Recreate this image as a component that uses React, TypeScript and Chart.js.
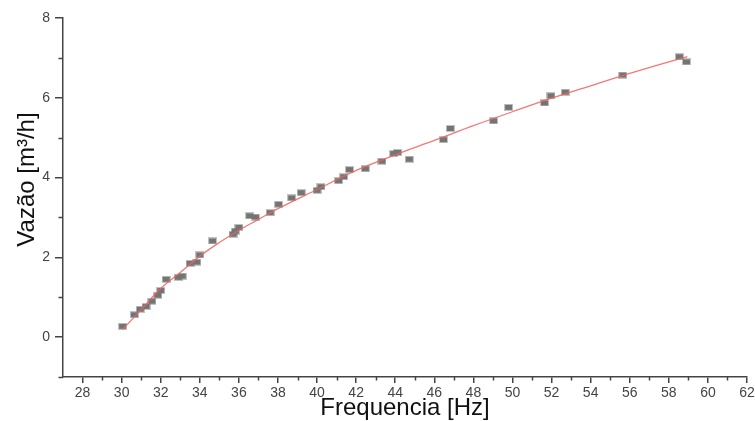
import { useEffect, useRef } from "react";
import { Chart, registerables } from "chart.js";

Chart.register(...registerables);

// Measured points: frequency [Hz] and flow [m³/h]
const frequencies = [
  30.05, 30.65, 30.95, 31.25, 31.55, 31.85, 32.0, 32.28, 32.9, 33.1,
  33.5, 33.85, 34.0, 34.65, 35.7, 35.82, 36.0, 36.55, 36.85, 37.6,
  38.03, 38.7, 39.19, 40.0, 40.2, 41.1, 41.36, 41.66, 42.47, 43.32,
  43.92, 44.12, 44.72, 46.47, 46.82, 49.03, 49.8, 51.64, 51.97, 52.7,
  55.64, 58.54, 58.9,
];
const flows = [
  0.27, 0.56, 0.7, 0.77, 0.9, 1.05, 1.17, 1.45, 1.5, 1.53,
  1.85, 1.88, 2.06, 2.41, 2.58, 2.66, 2.75, 3.04, 3.01, 3.12,
  3.33, 3.49, 3.62, 3.68, 3.77, 3.92, 4.02, 4.2, 4.22, 4.41,
  4.6, 4.63, 4.46, 4.95, 5.23, 5.42, 5.76, 5.87, 6.05, 6.14,
  6.57, 7.03, 6.9,
];

// Fitted curve
const fitFrequencies = [
  30.05, 31, 32, 33, 34, 35, 36, 37, 38, 40, 42, 44, 46, 48, 50, 52, 54, 56,
  58, 58.95,
];
const fitFlows = [
  0.19, 0.69, 1.22, 1.62, 2.03, 2.37, 2.68, 2.95, 3.22, 3.7, 4.18, 4.57, 4.93,
  5.3, 5.65, 5.99, 6.3, 6.61, 6.9, 7.03,
];

const xMin = 27;
const xMax = 62;
const yMin = -1;
const yMax = 8;
const xTickValues = [28, 30, 32, 34, 36, 38, 40, 42, 44, 46, 48, 50, 52, 54, 56, 58, 60, 62];
const xMinorTickValues = [29, 31, 33, 35, 37, 39, 41, 43, 45, 47, 49, 51, 53, 55, 57, 59, 61];
const yTickValues = [0, 2, 4, 6, 8];
const yMinorTickValues = [-1, 1, 3, 5, 7];

const xTitle = "Frequencia [Hz]";
const yTitle = "Vazão [m³/h]";

const FONT = '"Liberation Sans", Arial, sans-serif';
const AXIS_COLOR = "#444";

function makePointImage(): HTMLCanvasElement {
  const c = document.createElement("canvas");
  c.width = 9;
  c.height = 7;
  const g = c.getContext("2d")!;
  g.fillStyle = "rgba(120,120,120,0.45)";
  g.fillRect(0, 0, 9, 7);
  g.fillStyle = "#747474";
  g.fillRect(1, 1, 7, 5);
  return c;
}

const extrasPlugin = {
  id: "extras",
  afterDraw(chart: any) {
    const ctx: CanvasRenderingContext2D = chart.ctx;
    const xs = chart.scales.x;
    const ys = chart.scales.y;
    ctx.save();
    ctx.strokeStyle = AXIS_COLOR;
    ctx.lineWidth = 1.5;
    ctx.beginPath();
    for (const v of xMinorTickValues) {
      const px = Math.round(xs.getPixelForValue(v)) + 0.5;
      ctx.moveTo(px, xs.top);
      ctx.lineTo(px, xs.top + 3.5);
    }
    for (const v of yMinorTickValues) {
      const py = Math.round(ys.getPixelForValue(v)) + 0.5;
      ctx.moveTo(ys.right, py);
      ctx.lineTo(ys.right - 4.5, py);
    }
    ctx.stroke();

    const area = chart.chartArea;
    ctx.translate(27, (area.top + area.bottom) / 2 - 18);
    ctx.rotate(-Math.PI / 2);
    ctx.font = `24px ${FONT}`;
    ctx.fillStyle = "#111";
    ctx.textAlign = "center";
    ctx.textBaseline = "middle";
    ctx.fillText(yTitle, 0, 0);
    ctx.restore();
  },
};

export default function App() {
  const ref = useRef<HTMLCanvasElement | null>(null);

  useEffect(() => {
    if (!ref.current) return;
    const pointImg = makePointImage();
    const chart = new Chart(ref.current, {
      type: "scatter",
      data: {
        datasets: [
          {
            label: "Ajuste",
            data: fitFrequencies.map((x, i) => ({ x, y: fitFlows[i] })),
            showLine: true,
            borderColor: "rgba(240,95,95,0.85)",
            borderWidth: 1.3,
            pointRadius: 0,
            cubicInterpolationMode: "monotone",
            order: 0,
          } as any,
          {
            label: "Vazão",
            data: frequencies.map((x, i) => ({ x, y: flows[i] })),
            pointStyle: pointImg as any,
            pointRadius: 4,
            order: 1,
          },
        ],
      },
      options: {
        animation: false,
        responsive: false,
        devicePixelRatio: 1,
        layout: { padding: { left: 0, top: 18, right: 8, bottom: 0 } },
        plugins: { legend: { display: false }, tooltip: { enabled: false } },
        scales: {
          x: {
            type: "linear",
            min: xMin,
            max: xMax,
            afterBuildTicks: (s: any) => {
              s.ticks = xTickValues.map((value) => ({ value }));
            },
            afterFit: (s: any) => {
              s.height = 44;
              s.paddingLeft = 0;
              s.paddingRight = 8;
            },
            grid: {
              drawOnChartArea: false,
              drawTicks: true,
              tickLength: 6,
              color: AXIS_COLOR,
              lineWidth: 1.5,
            },
            border: { display: true, color: AXIS_COLOR, width: 1.5 },
            ticks: {
              padding: 2,
              color: "#444",
              font: { family: FONT, size: 14 },
              maxRotation: 0,
              autoSkip: false,
              callback: (v: any) => String(v),
            },
            title: {
              display: true,
              text: xTitle,
              color: "#111",
              font: { family: FONT, size: 24, lineHeight: 1 },
              padding: { top: 0, bottom: 1 },
            },
          },
          y: {
            type: "linear",
            min: yMin,
            max: yMax,
            afterBuildTicks: (s: any) => {
              s.ticks = yTickValues.map((value) => ({ value }));
            },
            afterFit: (s: any) => {
              s.width = 63;
              s.paddingTop = 0;
              s.paddingBottom = 0;
            },
            grid: {
              drawOnChartArea: false,
              drawTicks: true,
              tickLength: 8,
              color: AXIS_COLOR,
              lineWidth: 1.5,
            },
            border: { display: true, color: AXIS_COLOR, width: 1.5 },
            ticks: {
              padding: 5,
              color: "#444",
              font: { family: FONT, size: 14 },
              autoSkip: false,
              callback: (v: any) => String(v),
            },
            title: { display: false },
          },
        },
      },
      plugins: [extrasPlugin],
    });
    return () => chart.destroy();
  }, []);

  return (
    <canvas
      ref={ref}
      width={755}
      height={421}
      style={{ position: "fixed", left: 0, top: 0, width: 755, height: 421 }}
    />
  );
}
